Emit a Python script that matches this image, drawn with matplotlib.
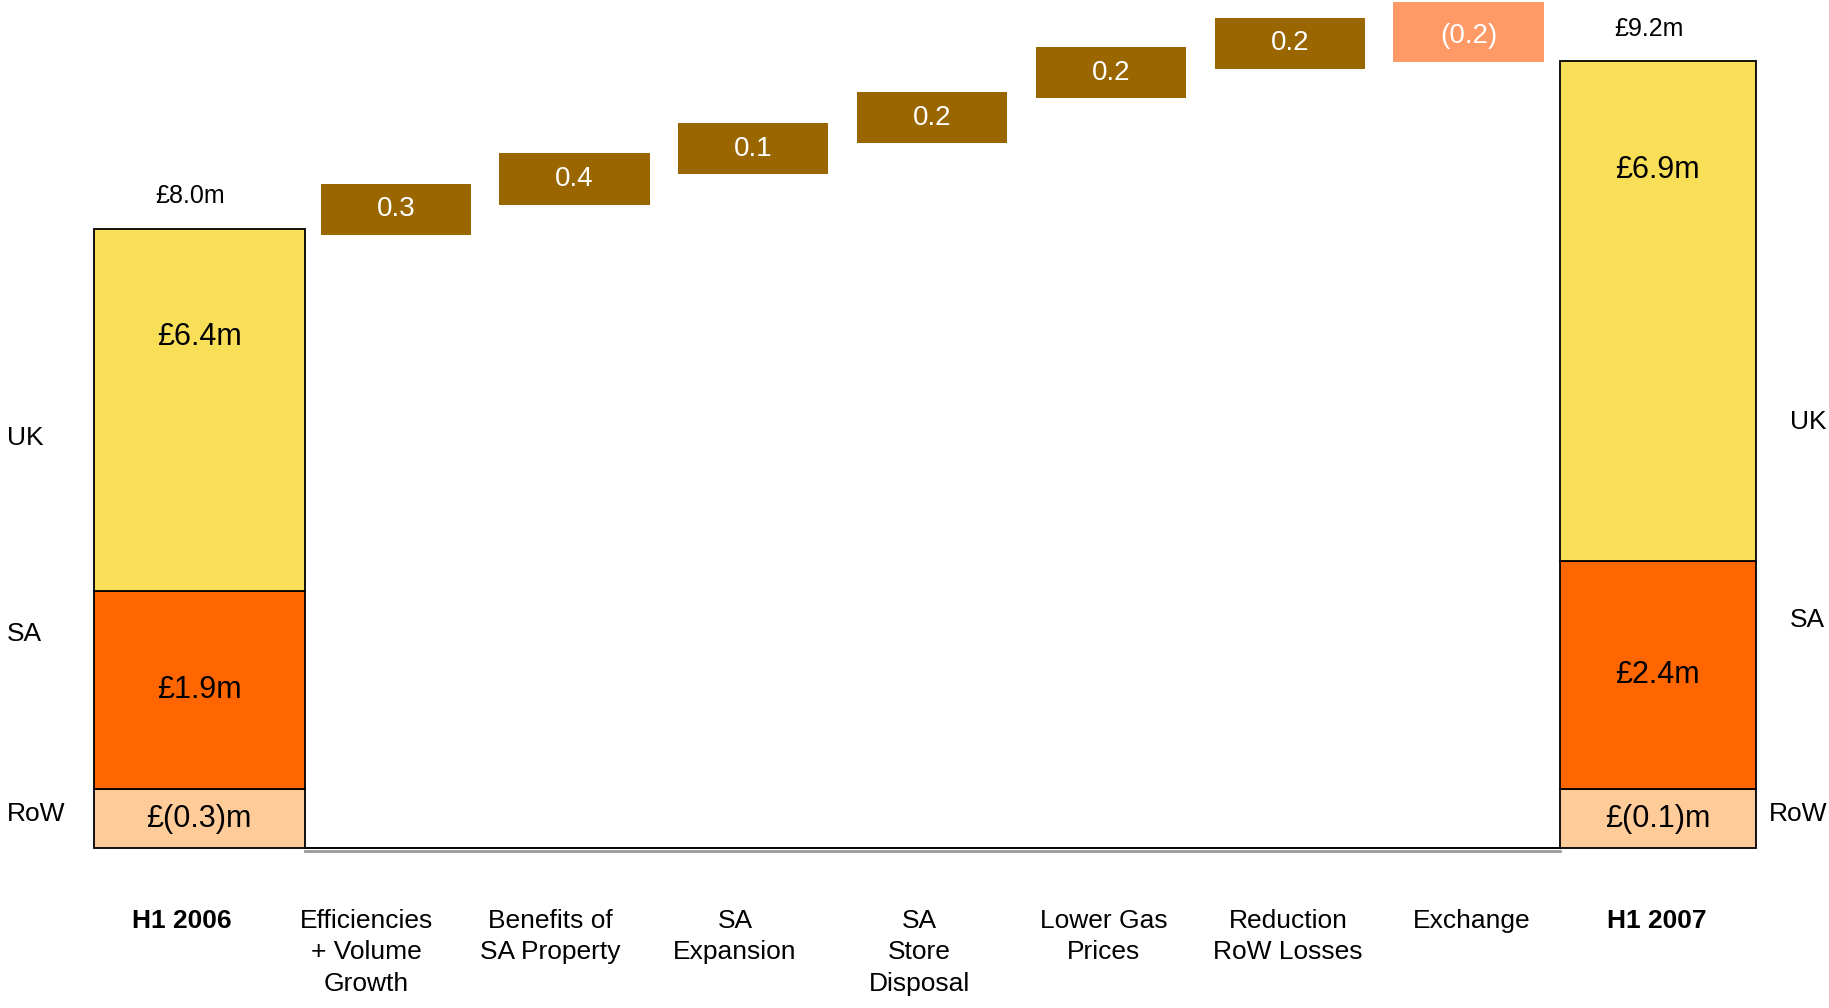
import numpy as np
import matplotlib.pyplot as plt

plt.rcParams['font.family'] = ['Liberation Sans', 'DejaVu Sans']

# totals (H1 2006, H1 2007) -- printed values
categories = ['H1 2006', 'Efficiencies\n+ Volume\nGrowth', 'Benefits of\nSA Property',
              'SA\nExpansion', 'SA\nStore\nDisposal', 'Lower Gas\nPrices',
              'Reduction\nRoW Losses', 'Exchange', 'H1 2007']
total_values = [8.0, 9.2]
uk_values = [6.4, 6.9]
sa_values = [1.9, 2.4]
row_values = [-0.3, -0.1]

# the slide is schematic: segment heights as drawn (not to scale)
row_drawn = [0.77, 0.77]
sa_drawn = [2.55, 2.94]
uk_drawn = [4.68, 6.45]

# bridge steps
step_values = [0.3, 0.4, 0.1, 0.2, 0.2, 0.2, -0.2]
step_bottom = [7.92, 8.31, 8.70, 9.10, 9.68, 10.06, 10.15]
step_height = [0.66, 0.66, 0.66, 0.66, 0.66, 0.66, 0.77]

yellow = '#F9DF57'
orange = '#FF6600'
peach = '#FFCC99'
brown = '#996600'
salmon = '#FF9966'


def money(v):
    if v < 0:
        return '£({:.1f})m'.format(abs(v))
    return '£{:.1f}m'.format(v)


def step_text(v):
    if v < 0:
        return '({:.1f})'.format(abs(v))
    return '{:.1f}'.format(v)


fig = plt.figure(figsize=(18.29, 10.08), dpi=100)
ax = fig.add_axes([0, 0, 1, 1])
ax.set_xlim(-1.214, 9.017)
ax.set_ylim(-2.06, 10.95)
ax.axis('off')

x = np.arange(len(categories))
# total bars sit a little wider / off the step grid on the slide
xt = x[[0, -1]] + np.array([-0.1, 0.06])
tw = np.array([1.18, 1.1])

# totals, stacked
row_drawn = np.array(row_drawn)
sa_drawn = np.array(sa_drawn)
uk_drawn = np.array(uk_drawn)
ax.bar(xt, row_drawn, tw, color=peach, edgecolor='black', lw=1.3, zorder=3)
ax.bar(xt, sa_drawn, tw, bottom=row_drawn, color=orange, edgecolor='black', lw=1.3, zorder=3)
ax.bar(xt, uk_drawn, tw, bottom=row_drawn + sa_drawn, color=yellow, edgecolor='black', lw=1.3, zorder=3)

tops = row_drawn + sa_drawn + uk_drawn
for i, xi in enumerate(xt):
    ax.text(xi, row_drawn[i] / 2, money(row_values[i]), ha='center', va='center', fontsize=22, zorder=4)
    ax.text(xi, row_drawn[i] + sa_drawn[i] / 2, money(sa_values[i]), ha='center', va='center', fontsize=22, zorder=4)
    ax.text(xi, tops[i] - 1.4, money(uk_values[i]), ha='center', va='center', fontsize=22, zorder=4)
    ax.text(xi - 0.05, tops[i] + 0.42, money(total_values[i]), ha='center', va='center', fontsize=18)

# bridge boxes
xs = x[1:-1]
colors = [brown if v >= 0 else salmon for v in step_values]
ax.bar(xs, step_height, 0.84, bottom=step_bottom, color=colors, zorder=3)
for xi, b, v in zip(xs, step_bottom, step_values):
    ax.text(xi, b + 0.33, step_text(v), ha='center', va='center', color='white', fontsize=20, zorder=4)

# baseline between the two totals
x0 = xt[0] + tw[0] / 2
x1 = xt[1] - tw[1] / 2
ax.plot([x0, x1], [-0.04, -0.04], color='#999999', lw=2, zorder=2)
ax.plot([x0, x1], [0, 0], color='black', lw=1.4, zorder=2)

# category labels (slightly wider spacing than the boxes)
label_x = -0.196 + 1.031 * x
for i, lab in enumerate(categories):
    bold = i in (0, len(categories) - 1)
    ax.text(label_x[i], -0.78, lab, ha='center', va='top', fontsize=19,
            fontweight='bold' if bold else 'normal', linespacing=1.4)

# region labels at the sides
for lab, y in zip(['UK', 'SA', 'RoW'], [5.3, 2.77, 0.44]):
    ax.text(-1.175, y, lab, ha='left', va='center', fontsize=19)
for lab, y, xx in zip(['UK', 'SA', 'RoW'], [5.5, 2.95, 0.44], [8.80, 8.80, 8.68]):
    ax.text(xx, y, lab, ha='left', va='center', fontsize=19)

fig.savefig('out.png', dpi=100)
